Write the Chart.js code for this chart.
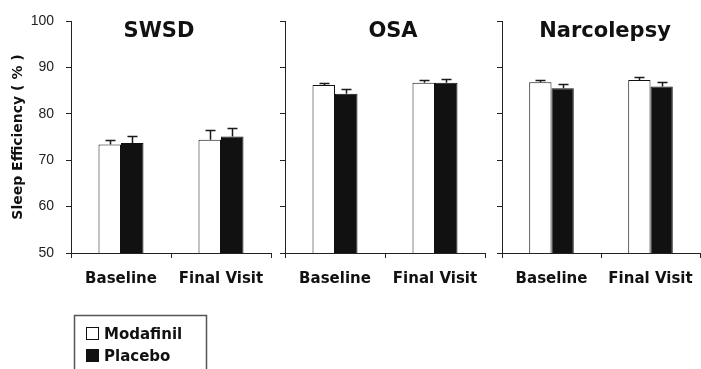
<!DOCTYPE html>
<html><head><meta charset="utf-8">
<script src="https://cdn.jsdelivr.net/npm/chart.js@4/dist/chart.umd.min.js"></script>
<style>
html,body{margin:0;padding:0;background:#fff;}
#wrap{position:relative;width:701px;height:369px;overflow:hidden;}
#wrap canvas{position:absolute;left:0;top:0;}
</style></head><body>
<div id="wrap">
<canvas id="c1" width="701" height="369"></canvas>
<canvas id="c2" width="701" height="369"></canvas>
<canvas id="c3" width="701" height="369"></canvas>
</div>
<script>
// ---- data ----
const categories = ['Baseline', 'Final Visit'];
const panelTitles = ['SWSD', 'OSA', 'Narcolepsy'];
const seriesNames = ['Modafinil', 'Placebo'];
const yTickValues = [50, 60, 70, 80, 90, 100];
const yAxisTitle = 'Sleep Efficiency ( % )';

const swsdModafinil = [73.4, 74.4];
const swsdModafinilSE = [0.9, 2.1];
const swsdPlacebo = [73.7, 75.1];
const swsdPlaceboSE = [1.5, 1.8];

const osaModafinil = [86.2, 86.7];
const osaModafinilSE = [0.5, 0.6];
const osaPlacebo = [84.3, 86.7];
const osaPlaceboSE = [1.0, 0.8];

const narcModafinil = [86.8, 87.3];
const narcModafinilSE = [0.5, 0.7];
const narcPlacebo = [85.5, 85.9];
const narcPlaceboSE = [0.9, 0.9];

const panelData = [
  [swsdModafinil, swsdModafinilSE, swsdPlacebo, swsdPlaceboSE],
  [osaModafinil, osaModafinilSE, osaPlacebo, osaPlaceboSE],
  [narcModafinil, narcModafinilSE, narcPlacebo, narcPlaceboSE]
];

// ---- plugins ----
const errorBars = {
  id: 'errorBars',
  afterDatasetsDraw(chart) {
    const ctx = chart.ctx, ys = chart.scales.y;
    ctx.save();
    ctx.strokeStyle = '#1a1a1a';
    ctx.lineWidth = 1.5;
    chart.data.datasets.forEach((ds, i) => {
      chart.getDatasetMeta(i).data.forEach((bar, j) => {
        const v = ds.data[j], e = ds.errors[j];
        const x = Math.round(bar.x) + 0.5;
        const y0 = ys.getPixelForValue(v), y1 = Math.round(ys.getPixelForValue(v + e)) + 0.5;
        ctx.beginPath();
        ctx.moveTo(x, y0); ctx.lineTo(x, y1);
        ctx.moveTo(x - 5, y1); ctx.lineTo(x + 5, y1);
        ctx.stroke();
      });
    });
    ctx.restore();
  }
};

const panelTitle = {
  id: 'panelTitle',
  afterDraw(chart, args, opts) {
    const ctx = chart.ctx, a = chart.chartArea;
    ctx.save();
    ctx.font = 'bold 21px "DejaVu Sans"';
    ctx.fillStyle = '#111';
    ctx.textAlign = 'center';
    ctx.textBaseline = 'alphabetic';
    ctx.fillText(opts.text, (a.left + a.right) / 2 + (opts.dx || 0), 37);
    ctx.restore();
  }
};

const boxLegend = {
  id: 'boxLegend',
  afterDraw(chart, args, opts) {
    if (!opts.show) return;
    const ctx = chart.ctx;
    ctx.save();
    ctx.strokeStyle = '#555';
    ctx.lineWidth = 1.5;
    ctx.strokeRect(74.5, 315.5, 132, 70);
    ctx.font = 'bold 15px "DejaVu Sans"';
    ctx.textBaseline = 'alphabetic';
    ctx.textAlign = 'left';
    chart.data.datasets.forEach((ds, i) => {
      const top = 327 + i * 22;
      ctx.fillStyle = ds.backgroundColor;
      ctx.fillRect(86.5, top + 0.5, 12, 12);
      ctx.strokeStyle = '#111';
      ctx.lineWidth = 1;
      ctx.strokeRect(86.5, top + 0.5, 12, 12);
      ctx.fillStyle = '#111';
      ctx.fillText(ds.label, 104, top + 11.5);
    });
    ctx.restore();
  }
};

// ---- charts ----
const layouts = [
  { padL: 0, yW: 71, padR: 430, labels: true, dx: -12 },
  { padL: 275, yW: 10, padR: 216, labels: false, dx: 8 },
  { padL: 492, yW: 10, padR: 1, labels: false, dx: 4 }
];

panelData.forEach((d, p) => {
  const L = layouts[p];
  new Chart(document.getElementById('c' + (p + 1)), {
    type: 'bar',
    data: {
      labels: categories,
      datasets: [
        { label: seriesNames[0], data: d[0], errors: d[1], backgroundColor: '#ffffff', borderColor: '#111', borderWidth: 1, borderSkipped: 'bottom' },
        { label: seriesNames[1], data: d[2], errors: d[3], backgroundColor: '#111111', borderColor: '#111', borderWidth: 1, borderSkipped: 'bottom' }
      ]
    },
    options: {
      responsive: false,
      animation: false,
      events: [],
      layout: { padding: { left: L.padL, right: L.padR, top: 21, bottom: 0 } },
      datasets: { bar: { barPercentage: 1.0, categoryPercentage: 0.45 } },
      plugins: {
        legend: { display: false },
        tooltip: { enabled: false },
        title: { display: false },
        panelTitle: { text: panelTitles[p], dx: L.dx },
        boxLegend: { show: p === 0 }
      },
      scales: {
        x: {
          grid: { offset: true, drawOnChartArea: false, drawTicks: true, tickLength: 5, color: '#222', lineWidth: 1 },
          border: { display: true, color: '#222', width: 1 },
          ticks: { color: '#111', font: { family: 'DejaVu Sans', size: 15, weight: 'bold', lineHeight: 2.2 }, padding: 5, maxRotation: 0 },
          afterFit(s) { s.height = 116; }
        },
        y: {
          min: 50, max: 100,
          afterBuildTicks(s) { s.ticks = yTickValues.map(v => ({ value: v })); },
          grid: { drawOnChartArea: false, drawTicks: true, tickLength: 5, color: '#222', lineWidth: 1 },
          border: { display: true, color: '#222', width: 1 },
          ticks: { display: L.labels, color: '#222', font: { family: 'Liberation Sans', size: 14 }, padding: 12 },
          title: { display: L.labels, text: yAxisTitle, color: '#111', font: { family: 'DejaVu Sans', size: 14, weight: 'bold' }, padding: { top: 10, bottom: 0 } },
          afterFit(s) { s.width = L.yW; }
        }
      }
    },
    plugins: [errorBars, panelTitle, boxLegend]
  });
});
</script>
</body></html>
